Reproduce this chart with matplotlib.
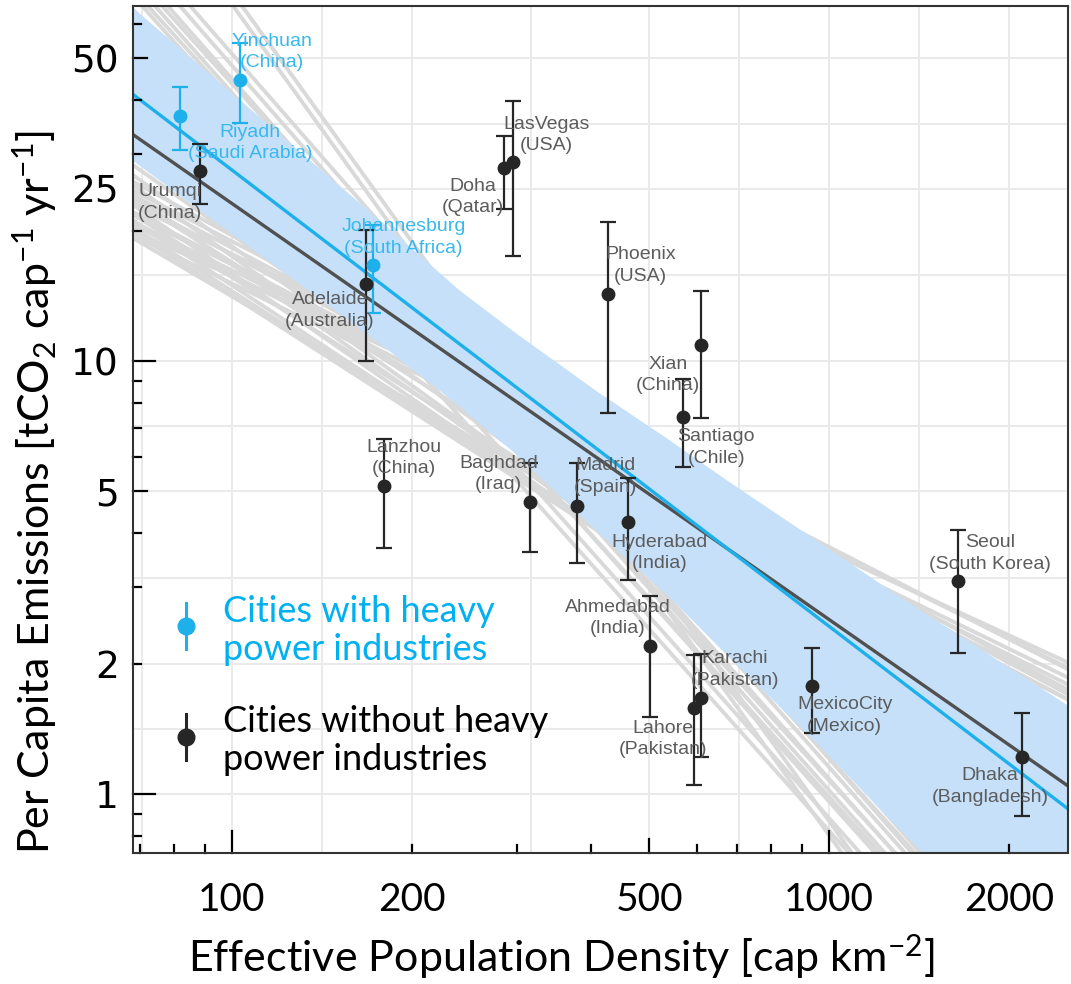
import numpy as np
import matplotlib
matplotlib.use("Agg")
import matplotlib.pyplot as plt
from matplotlib.transforms import blended_transform_factory

# ---------------- data ----------------
heavy_names = ["Riyadh", "Yinchuan", "Johannesburg"]
heavy_countries = ["Saudi Arabia", "China", "South Africa"]
heavy_density = [81.8, 103, 172]
heavy_emis = [36.8, 44.6, 16.7]
heavy_lo = [30.7, 35.5, 12.9]
heavy_hi = [42.9, 54.2, 20.6]

other_names = ["Urumqi", "Adelaide", "Lanzhou", "Doha", "LasVegas", "Baghdad",
               "Madrid", "Phoenix", "Hyderabad", "Ahmedabad", "Xian", "Santiago",
               "Lahore", "Karachi", "MexicoCity", "Seoul", "Dhaka"]
other_countries = ["China", "Australia", "China", "Qatar", "USA", "Iraq",
                   "Spain", "USA", "India", "India", "China", "Chile",
                   "Pakistan", "Pakistan", "Mexico", "South Korea", "Bangladesh"]
other_density = [88.4, 167.5, 180, 285, 295, 316, 378, 427, 460, 501, 610, 570,
                 593, 610, 935, 1643, 2103]
other_emis = [27.4, 15.1, 5.15, 27.9, 28.8, 4.73, 4.62, 14.3, 4.25, 2.20, 10.9, 7.44,
              1.58, 1.67, 1.78, 3.10, 1.22]
other_lo = [23.0, 10.0, 3.70, 22.4, 17.5, 3.62, 3.42, 7.57, 3.12, 1.51, 7.38, 5.70,
            1.05, 1.22, 1.38, 2.12, 0.891]
other_hi = [31.7, 20.1, 6.61, 33.1, 39.9, 5.82, 5.82, 20.9, 5.36, 2.87, 14.5, 9.08,
            2.09, 2.11, 2.17, 4.07, 1.54]

# fitted lines: emission at density 100 and at density 1000
fit_all_at100, fit_all_at1000 = 27.6, 2.44          # light-blue line
fit_other_at100, fit_other_at1000 = 23.1, 2.53      # dark-grey line

# confidence band
band_x = [68, 130, 180, 240, 300, 410, 540, 680, 950, 1300, 2550]
band_hi = [65.7, 30.4, 20.7, 14.59, 11.55, 8.48, 6.57, 5.26, 3.86, 2.88, 1.58]
band_lo = [29.1, 15.06, 10.77, 7.87, 6.07, 4.03, 2.85, 2.07, 1.32, 0.839, 0.334]

# bootstrap regression lines: emission at density 100 and 1000
boot_at100 = [28.9, 31.0, 33.5, 35.9, 38.6, 41.6, 44.8, 48.1, 51.2, 66.6, 71.1,
              32.7, 35.3, 40.3, 43.7,
              15.7, 16.2, 15.1, 16.8, 17.6, 18.9, 19.5, 14.5, 15.6, 16.9, 14.1,
              19.58, 18.41, 17.46, 16.70, 15.91, 14.95, 14.16,
              17.67, 16.69, 18.25, 15.79]
boot_at1000 = [0.823, 0.880, 0.961, 1.02, 1.085, 1.154, 1.208, 1.275, 1.355, 0.804, 0.866,
               0.985, 1.075, 1.211, 1.289,
               3.62, 3.45, 3.23, 3.21, 3.11, 3.72, 3.47, 1.88, 2.07, 2.24, 2.17,
               2.10, 1.88, 1.78, 1.79, 1.76, 1.84, 1.84,
               3.67, 3.39, 3.35, 3.15]

x_breaks = [50, 100, 200, 500, 1000, 2000]
x_ticklabels = ["100", "200", "500", "1000", "2000"]
y_breaks = [0.5, 1, 2, 5, 10, 25, 50]
y_ticklabels = ["1", "2", "5", "10", "25", "50"]

# ---------------- layout / style ----------------
heavy_label_offsets = [(70, -27), (32, 28), (31, 27)]
other_label_offsets = [(-30, -31), (-36, -27), (19, 28), (-31, -29), (34, 27), (-32, 28),
                       (29, 30), (32, 28), (32, -31), (-32, 28), (-33, -30), (33, -31),
                       (-31, -31), (34, 28), (33, -30), (32, 28), (-32, -30)]

CYAN = "#1DB0EA"
CYAN_TXT = "#38B9EE"
DARK = "#262626"
LINE_DARK = "#505050"
LABEL_GREY = "#5C5C5C"
BAND = "#C6E0F9"
BOOT = "#D9D9D9"
GRID = "#EAEAEA"

plt.rcParams["mathtext.default"] = "regular"

fig = plt.figure(figsize=(10.71, 9.84), dpi=100)
ax = fig.add_axes([133 / 1071, 1 - 853 / 984, 935 / 1071, 847 / 984])
ax.set_xscale("log")
ax.set_yscale("log")
ax.set_xlim(68.25, 2513)
ax.set_ylim(0.731, 66.05)

xlo, xhi = ax.get_xlim()
ylo, yhi = ax.get_ylim()

# grid: breaks and geometric mid-points
def grid_positions(br):
    pos = list(br)
    pos += [np.sqrt(a * b) for a, b in zip(br[:-1], br[1:])]
    return pos

for gx in grid_positions(x_breaks):
    if xlo < gx < xhi:
        ax.axvline(gx, color=GRID, lw=1.4, zorder=0)
for gy in grid_positions(y_breaks):
    if ylo < gy < yhi:
        ax.axhline(gy, color=GRID, lw=1.4, zorder=0)

# bootstrap lines
xx = np.array([50.0, 3000.0])
for a100, a1000 in zip(boot_at100, boot_at1000):
    s = np.log10(a1000 / a100)
    ax.plot(xx, a100 * (xx / 100.0) ** s, color=BOOT, lw=2.8, zorder=1,
            solid_capstyle="butt")

# confidence band
ax.fill_between(band_x, band_lo, band_hi, color=BAND, lw=0, zorder=2)

# fit lines
for (a100, a1000, col) in [(fit_other_at100, fit_other_at1000, LINE_DARK),
                           (fit_all_at100, fit_all_at1000, CYAN)]:
    s = np.log10(a1000 / a100)
    ax.plot(xx, a100 * (xx / 100.0) ** s, color=col, lw=2.4, zorder=3)

# error bars and points
hy = np.array(heavy_emis)
ax.errorbar(heavy_density, heavy_emis,
            yerr=[hy - np.array(heavy_lo), np.array(heavy_hi) - hy],
            fmt="o", color=CYAN, ms=9, elinewidth=1.6, capsize=5.5, capthick=1.6, zorder=5)
oy = np.array(other_emis)
ax.errorbar(other_density, other_emis,
            yerr=[oy - np.array(other_lo), np.array(other_hi) - oy],
            fmt="o", color=DARK, ms=9, elinewidth=1.6, capsize=5.5, capthick=1.6, zorder=5)

# labels
lab_font = dict(family="Liberation Sans", fontsize=14, ha="center", va="center",
                linespacing=1.35, zorder=6)
for n, c, x, y, off in zip(heavy_names, heavy_countries, heavy_density, heavy_emis,
                           heavy_label_offsets):
    ax.annotate(f"{n}\n({c})", (x, y), xytext=off, textcoords="offset pixels",
                color=CYAN_TXT, **lab_font)
for n, c, x, y, off in zip(other_names, other_countries, other_density, other_emis,
                           other_label_offsets):
    ax.annotate(f"{n}\n({c})", (x, y), xytext=off, textcoords="offset pixels",
                color=LABEL_GREY, **lab_font)

# ticks
ax.set_xticks([b for b in x_breaks if xlo < b < xhi])
ax.set_xticklabels(x_ticklabels)
ax.set_yticks([b for b in y_breaks if ylo < b < yhi])
ax.set_yticklabels(y_ticklabels)
ax.minorticks_off()
ax.tick_params(axis="both", length=0)
ax.tick_params(axis="x", pad=21)
ax.tick_params(axis="y", pad=10)
for t in ax.get_xticklabels():
    t.set_fontfamily("Lato")
    t.set_fontsize(28)
for t in ax.get_yticklabels():
    t.set_fontfamily("DejaVu Sans")
    t.set_fontsize(27)

# log ticks drawn inside the panel
bx = blended_transform_factory(ax.transData, ax.transAxes)
by = blended_transform_factory(ax.transAxes, ax.transData)
for dec in [10, 100, 1000]:
    for m in range(1, 10):
        v = m * dec
        if xlo < v < xhi:
            L = 22 if m == 1 else (14 if m == 5 else 8)
            ax.plot([v, v], [0, L / 847], color="black", lw=1.6, transform=bx,
                    clip_on=False, zorder=7)
for dec in [0.1, 1, 10]:
    for m in range(1, 10):
        v = m * dec
        if ylo < v < yhi:
            L = 22 if m == 1 else (14 if m == 5 else 8)
            ax.plot([0, L / 935], [v, v], color="black", lw=1.6, transform=by,
                    clip_on=False, zorder=7)

for sp in ax.spines.values():
    sp.set_color("#333333")
    sp.set_linewidth(1.5)
    sp.set_zorder(8)

# legend (manual)
leg_items = [("Cities with heavy\npower industries", CYAN, "#00B0F0", 0.268, 0.263),
             ("Cities without heavy\npower industries", DARK, "black", 0.137, 0.133)]
for txt, mc, tc, ym, yt in leg_items:
    ax.plot([0.0567, 0.0567], [ym - 0.027, ym + 0.027], color=mc, lw=2.2,
            transform=ax.transAxes, zorder=6)
    ax.plot([0.0567], [ym], "o", color=mc, ms=12, transform=ax.transAxes, zorder=6)
    ax.text(0.0963, yt, txt, color=tc, fontsize=26, family="Lato", ha="left",
            va="center", linespacing=1.2, transform=ax.transAxes, zorder=6)

# axis titles
fig.text(561 / 1071, 1 - 957 / 984, "Effective Population Density [cap km$^{-2}$]",
         ha="center", va="center", fontsize=31, family="Lato")
fig.text(35 / 1071, 1 - 492 / 984, "Per Capita Emissions [tCO$_2$ cap$^{-1}$ yr$^{-1}$]",
         ha="center", va="center", rotation=90, fontsize=31, family="Lato")

fig.savefig("out.png", dpi=100)
